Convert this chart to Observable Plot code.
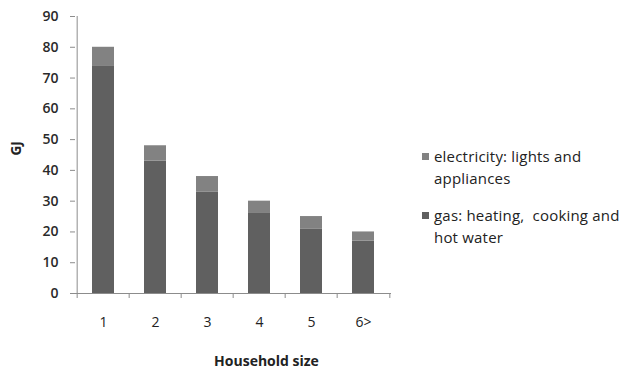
<!DOCTYPE html>
<html>
<head>
<meta charset="utf-8">
<script src="https://cdn.jsdelivr.net/npm/d3@7"></script>
<script src="https://cdn.jsdelivr.net/npm/@observablehq/plot@0.6"></script>
<style>
  body { margin: 0; background: #fff; }
  #wrap { position: relative; width: 623px; height: 369px; overflow: hidden; }
  #legend { position: absolute; left: 422px; top: 145px; font-family: "Open Sans", sans-serif; font-size: 15px; letter-spacing: 0.2px; color: #222; line-height: 22px; white-space: nowrap; }
  .item { position: relative; padding-left: 12px; margin-bottom: 15px; }
  .sw { position: absolute; left: 0; top: 8px; width: 7px; height: 7px; }
</style>
</head>
<body>
<div id="wrap"></div>
<script>
const categories = ["1", "2", "3", "4", "5", "6>"];
const gas = [74, 43, 33, 26, 21, 17];
const electricity = [6, 5, 5, 4, 4, 3];
const seriesNames = ["gas: heating, cooking and hot water", "electricity: lights and appliances"];
const seriesColors = ["#606060", "#828282"];
const yTicks = [0, 10, 20, 30, 40, 50, 60, 70, 80, 90];

const data = [];
categories.forEach((c, i) => {
  data.push({size: c, series: seriesNames[0], value: gas[i]});
  data.push({size: c, series: seriesNames[1], value: electricity[i]});
});

const W = 623, H = 369, mL = 75, mR = 232, mT = 16, mB = 76;
const step = (W - mL - mR) / categories.length;
const axisColor = "#8c8c8c";

const chart = Plot.plot({
  width: W, height: H,
  marginLeft: mL, marginRight: mR, marginTop: mT, marginBottom: mB,
  style: {fontFamily: "'Open Sans', sans-serif", fontSize: "13px", color: "#333", background: "#fff"},
  x: {domain: categories, paddingInner: 0.58, paddingOuter: 0.29, axis: null},
  y: {domain: [0, 90], axis: null},
  color: {domain: seriesNames, range: seriesColors},
  marks: [
    Plot.barY(data, {x: "size", y: "value", fill: "series", order: seriesNames}),
    Plot.ruleY([0], {stroke: axisColor}),
    Plot.ruleX([categories[0]], {dx: -step / 2, stroke: axisColor}),
    Plot.axisY(yTicks, {tickSize: 5, tickPadding: 12, stroke: axisColor, fill: "#2a2a2a", fontSize: 14, fontWeight: 600, tickFormat: d => String(d), label: null}),
    Plot.axisX(categories, {tickSize: 5, dx: -step / 2, stroke: axisColor, tickFormat: () => "", label: null}),
    Plot.axisX([categories[categories.length - 1]], {tickSize: 5, dx: step / 2, stroke: axisColor, tickFormat: () => "", label: null}),
    Plot.axisX(categories, {tickSize: 0, tickPadding: 24, fill: "#222", fontSize: 14, label: null}),
    Plot.text(["Household size"], {frameAnchor: "bottom", dx: 266 - (mL + (W - mL - mR) / 2), dy: 72, fontWeight: "bold", fontSize: 14, fill: "#222"}),
    Plot.text(["GJ"], {frameAnchor: "left", rotate: -90, dx: -59, dy: 155 - (mT + (H - mT - mB) / 2), fontWeight: "bold", fontSize: 13.5, fill: "#222"})
  ]
});
document.getElementById("wrap").appendChild(chart);

const legend = document.createElement("div");
legend.id = "legend";
[1, 0].forEach(k => {
  const item = document.createElement("div");
  item.className = "item";
  const sw = document.createElement("span");
  sw.className = "sw";
  sw.style.background = seriesColors[k];
  item.appendChild(sw);
  const parts = k === 1 ? ["electricity: lights and", "appliances"] : ["gas: heating,\u00a0 cooking and", "hot water"];
  parts.forEach(p => { const d = document.createElement("div"); d.textContent = p; item.appendChild(d); });
  legend.appendChild(item);
});
document.getElementById("wrap").appendChild(legend);
</script>
</body>
</html>
